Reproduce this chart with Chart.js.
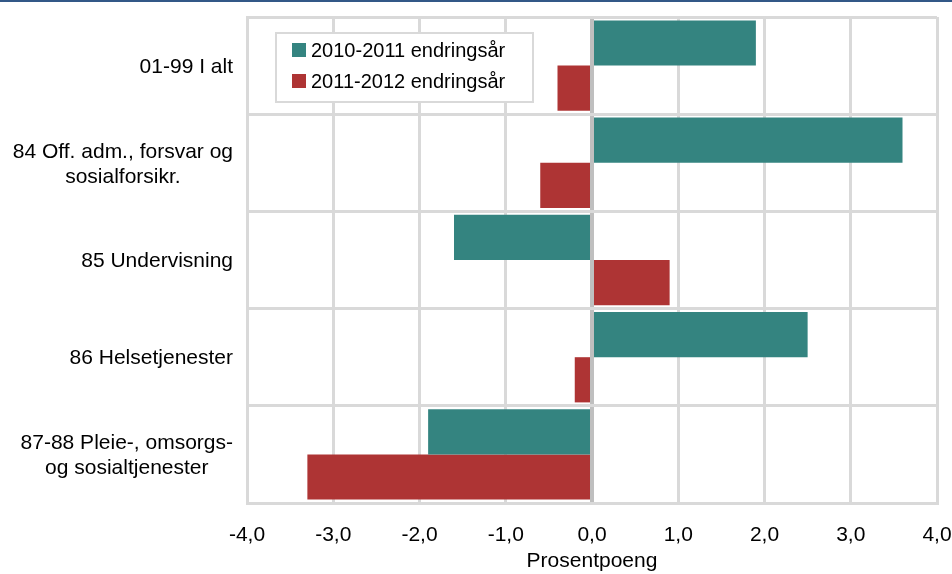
<!DOCTYPE html>
<html>
<head>
<meta charset="utf-8">
<script src="https://cdn.jsdelivr.net/npm/chart.js@4.4.0/dist/chart.umd.min.js"></script>
<style>
  html, body { margin: 0; padding: 0; background: #fff; }
  .wrap { position: relative; width: 952px; height: 574px; }
  .topline { position: absolute; left: 0; top: 0; width: 952px; height: 2px; background: #325887; }
  canvas { position: absolute; left: 0; top: 0; }
</style>
</head>
<body>
<div class="wrap">
  <canvas id="chart" width="952" height="574"></canvas>
  <div class="topline"></div>
</div>
<script>
// Categories and series
const categories = [
    '01-99 I alt',
    ['84 Off. adm., forsvar og', 'sosialforsikr.'],
    '85 Undervisning',
    '86 Helsetjenester',
    ['87-88 Pleie-, omsorgs-', 'og sosialtjenester']
];
const change2010_2011 = [1.9, 3.6, -1.6, 2.5, -1.9];
const change2011_2012 = [-0.4, -0.6, 0.9, -0.2, -3.3];
const seriesLabels = ['2010-2011 endringsår', '2011-2012 endringsår'];
const seriesColors = ['#348480', '#ae3434'];
const axisTitle = 'Prosentpoeng';

const fontFamily = '"Liberation Sans", Arial, sans-serif';

// Category labels: block right-aligned to the axis, lines centred inside the block
const categoryLabelsPlugin = {
    id: 'categoryLabels',
    afterDraw(chart) {
        const ctx = chart.ctx;
        const yScale = chart.scales.y;
        const rightEdge = chart.chartArea.left - 14;
        const lineGap = 25;
        ctx.save();
        ctx.font = '21px ' + fontFamily;
        ctx.fillStyle = '#000';
        ctx.textAlign = 'center';
        ctx.textBaseline = 'middle';
        categories.forEach((label, i) => {
            const lines = Array.isArray(label) ? label : [label];
            const blockWidth = Math.max(...lines.map(l => ctx.measureText(l).width));
            const cx = rightEdge - blockWidth / 2;
            const cy = yScale.getPixelForValue(i) + 1.5;
            const y0 = cy - (lines.length - 1) * lineGap / 2;
            lines.forEach((line, j) => ctx.fillText(line, cx, y0 + j * lineGap));
        });
        ctx.restore();
    }
};

// Legend box inside the plot area
const legendBoxPlugin = {
    id: 'legendBox',
    afterDraw(chart) {
        const ctx = chart.ctx;
        const boxX = 276, boxY = 33, boxW = 257, boxH = 69;
        ctx.save();
        ctx.fillStyle = '#fff';
        ctx.fillRect(boxX, boxY, boxW, boxH);
        ctx.strokeStyle = '#d9d9d9';
        ctx.lineWidth = 2;
        ctx.strokeRect(boxX, boxY, boxW, boxH);
        ctx.font = '20px ' + fontFamily;
        ctx.textAlign = 'left';
        ctx.textBaseline = 'middle';
        chart.data.datasets.forEach((ds, i) => {
            const cy = 50 + i * 31;
            ctx.fillStyle = ds.backgroundColor;
            ctx.fillRect(292, cy - 7, 14, 14);
            ctx.fillStyle = '#000';
            ctx.fillText(ds.label, 311, cy + 1);
        });
        ctx.restore();
    }
};

new Chart(document.getElementById('chart'), {
    type: 'bar',
    data: {
        labels: categories,
        datasets: [{
            label: seriesLabels[0],
            data: change2010_2011,
            backgroundColor: seriesColors[0],
            borderWidth: 0,
            barPercentage: 1,
            categoryPercentage: 0.93
        }, {
            label: seriesLabels[1],
            data: change2011_2012,
            backgroundColor: seriesColors[1],
            borderWidth: 0,
            barPercentage: 1,
            categoryPercentage: 0.93
        }]
    },
    plugins: [categoryLabelsPlugin, legendBoxPlugin],
    options: {
        indexAxis: 'y',
        responsive: false,
        animation: false,
        layout: { padding: { top: 17, right: 15, left: 0, bottom: 0 } },
        plugins: {
            legend: { display: false },
            tooltip: { enabled: false }
        },
        scales: {
            x: {
                min: -4,
                max: 4,
                ticks: {
                    stepSize: 1,
                    color: '#000',
                    padding: 20,
                    font: { family: fontFamily, size: 21 },
                    callback: v => v.toFixed(1).replace('.', ',')
                },
                grid: {
                    color: ctx => ctx.tick && ctx.tick.value === 0 ? '#bfbfbf' : '#d9d9d9',
                    lineWidth: ctx => ctx.tick && ctx.tick.value === 0 ? 4 : 3,
                    drawTicks: false
                },
                border: { color: '#d9d9d9', width: 3 },
                title: {
                    display: true,
                    text: axisTitle,
                    color: '#000',
                    padding: { top: 0, bottom: 0 },
                    font: { family: fontFamily, size: 21 }
                },
                afterFit: scale => {
                    scale.height = 71;
                    scale.paddingLeft = 0;
                    scale.paddingRight = 0;
                }
            },
            y: {
                grid: {
                    offset: true,
                    color: '#d9d9d9',
                    lineWidth: 3,
                    drawTicks: false
                },
                border: { color: '#d9d9d9', width: 3 },
                ticks: { display: false },
                afterFit: scale => {
                    scale.width = 247;
                    scale.paddingTop = 0;
                    scale.paddingBottom = 0;
                }
            }
        }
    }
});
</script>
</body>
</html>
